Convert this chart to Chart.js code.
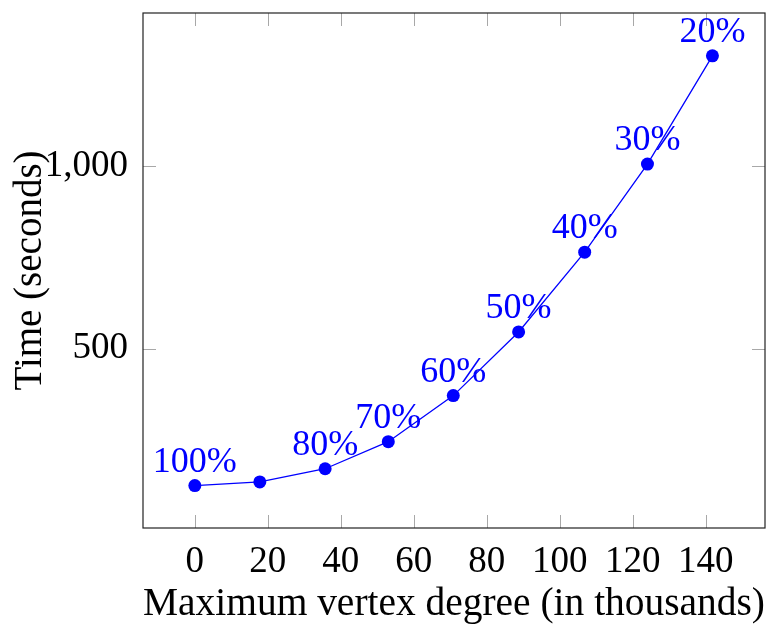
<!DOCTYPE html>
<html>
<head>
<meta charset="utf-8">
<script src="https://cdn.jsdelivr.net/npm/chart.js@4/dist/chart.umd.min.js"></script>
<style>
  html, body { margin: 0; padding: 0; background: #fff; }
  #wrap { width: 773px; height: 629px; }
</style>
</head>
<body>
<div id="wrap"><canvas id="deg" width="773" height="629"></canvas></div>
<script>
/* ---- data ---- */
const degrees   = [0, 17.8, 35.7, 53.0, 70.8, 88.7, 106.8, 124.0, 141.8];   // thousands
const times     = [126, 136, 172, 246, 372, 546, 764, 1005, 1301];          // seconds
const pctLabels = ['100%', '', '80%', '70%', '60%', '50%', '40%', '30%', '20%'];
const xTicks    = [0, 20, 40, 60, 80, 100, 120, 140];
const yTicks    = [500, 1000];

const BLUE  = '#0000ff';
const SERIF = '"Liberation Serif", "Times New Roman", serif';

// inside tick marks on all four sides + black frame
const frame = {
  id: 'frame',
  beforeDatasetsDraw(chart) {
    const { ctx, chartArea: a, scales: { x, y } } = chart;
    const len = 13;
    ctx.save();
    ctx.strokeStyle = '#a8a8a8';
    ctx.lineWidth = 1;
    ctx.beginPath();
    xTicks.forEach(v => {
      const px = Math.round(x.getPixelForValue(v)) + 0.5;
      ctx.moveTo(px, a.bottom); ctx.lineTo(px, a.bottom - len);
      ctx.moveTo(px, a.top);    ctx.lineTo(px, a.top + len);
    });
    yTicks.forEach(v => {
      const py = Math.round(y.getPixelForValue(v)) + 0.5;
      ctx.moveTo(a.left, py);  ctx.lineTo(a.left + len, py);
      ctx.moveTo(a.right, py); ctx.lineTo(a.right - len, py);
    });
    ctx.stroke();
    ctx.restore();
  },
  afterDatasetsDraw(chart) {
    const { ctx, chartArea: a } = chart;
    ctx.save();
    ctx.strokeStyle = '#222';
    ctx.lineWidth = 1.2;
    ctx.strokeRect(a.left, a.top, a.right - a.left, a.bottom - a.top);

    // percentage nodes above the points
    ctx.fillStyle = BLUE;
    ctx.font = `36px ${SERIF}`;
    ctx.textAlign = 'center';
    ctx.textBaseline = 'alphabetic';
    chart.getDatasetMeta(0).data.forEach((pt, i) => {
      if (pctLabels[i]) ctx.fillText(pctLabels[i], pt.x, pt.y - 14);
    });
    ctx.restore();
  }
};

new Chart(document.getElementById('deg'), {
  type: 'line',
  data: {
    datasets: [{
      data: degrees.map((d, i) => ({ x: d, y: times[i] })),
      borderColor: BLUE,
      backgroundColor: BLUE,
      pointBackgroundColor: BLUE,
      pointBorderWidth: 0,
      borderWidth: 1.3,
      pointRadius: 6.5,
      tension: 0,
      fill: false,
      clip: false
    }]
  },
  options: {
    responsive: false,
    animation: false,
    layout: { padding: { top: 13, right: 8, left: 0, bottom: 0 } },
    plugins: { legend: { display: false }, tooltip: { enabled: false } },
    scales: {
      x: {
        type: 'linear',
        min: -14.2,
        max: 156.2,
        afterBuildTicks: s => { s.ticks = xTicks.map(v => ({ value: v })); },
        afterFit: s => { s.height = 101; s.paddingLeft = 0; s.paddingRight = 0; },
        grid: { display: false, drawTicks: false },
        border: { display: false },
        ticks: { color: '#000', padding: 12, maxRotation: 0, font: { family: SERIF, size: 37 } },
        title: {
          display: true,
          text: 'Maximum vertex degree (in thousands)',
          color: '#000',
          font: { family: SERIF, size: 40.5, lineHeight: 1 },
          padding: { top: 0, bottom: 4 }
        }
      },
      y: {
        type: 'linear',
        min: 10,
        max: 1418,
        afterBuildTicks: s => { s.ticks = yTicks.map(v => ({ value: v })); },
        afterFit: s => { s.width = 143; s.paddingTop = 0; s.paddingBottom = 0; },
        grid: { display: false, drawTicks: false },
        border: { display: false },
        ticks: {
          color: '#000',
          padding: 15,
          font: { family: SERIF, size: 37 },
          callback: v => v.toLocaleString('en-US')
        },
        title: {
          display: true,
          text: 'Time (seconds)',
          color: '#000',
          font: { family: SERIF, size: 39, lineHeight: 1 },
          padding: { top: 11, bottom: 0 }
        }
      }
    }
  },
  plugins: [frame]
});
</script>
</body>
</html>
